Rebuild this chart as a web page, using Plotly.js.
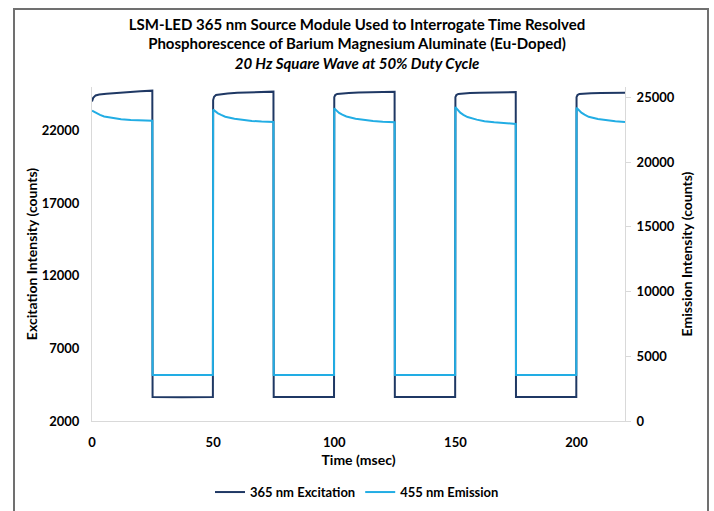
<!DOCTYPE html>
<html>
<head>
<meta charset="utf-8">
<script src="https://cdn.plot.ly/plotly-3.0.1.min.js"></script>
<style>
  html, body { margin: 0; padding: 0; background: #ffffff; }
  #chart { width: 714px; height: 511px; position: absolute; left: 0; top: 0; }
  #frame { position: absolute; left: 13px; top: 8px; width: 692px; height: 501px;
           border-left: 2px solid #707070; border-top: 2px solid #707070;
           border-right: 2px solid #707070; border-bottom: 1px solid #d4d4d4;
           pointer-events: none; }
</style>
</head>
<body>
<div id="chart"></div>
<div id="frame"></div>
<script>
// ---- Data ----
// Time in msec
const excitationTime = [
  0, 0.5, 1.5, 3, 6, 10, 15, 20, 24.9,
  25, 37, 49.9,
  50, 50.4, 51.2, 53, 56, 60, 65, 70, 74.9,
  75, 87, 99.9,
  100, 100.4, 101.2, 103, 106, 110, 115, 120, 124.9,
  125, 137, 149.9,
  150, 150.4, 151.2, 153, 156, 160, 165, 170, 174.9,
  175, 187, 199.9,
  200, 200.4, 201.2, 203, 206, 210, 215, 220
];
const excitationCounts = [
  24000, 24250, 24420, 24480, 24540, 24600, 24660, 24710, 24750,
  3650, 3630, 3650,
  24100, 24330, 24450, 24510, 24560, 24600, 24640, 24660, 24680,
  3650, 3640, 3650,
  24300, 24450, 24520, 24560, 24590, 24620, 24640, 24660, 24680,
  3650, 3640, 3650,
  24300, 24450, 24520, 24560, 24590, 24610, 24630, 24640, 24650,
  3650, 3640, 3650,
  24300, 24450, 24520, 24550, 24570, 24580, 24590, 24600
];

const emissionTime = [
  0, 1, 2, 3.3, 5, 8.8, 12, 16, 20, 24.9,
  25, 37, 49.9,
  50, 51, 52, 53.3, 55, 58.8, 62, 66, 70, 74.9,
  75, 87, 99.9,
  100, 101, 102, 103.3, 105, 108.8, 112, 116, 120, 124.9,
  125, 137, 149.9,
  150, 151, 152, 153.3, 155, 158.8, 162, 166, 170, 174.9,
  175, 187, 199.9,
  200, 201, 202, 203.3, 205, 208.8, 212, 216, 220
];
const emissionCounts = [
  23970, 23850, 23750, 23640, 23520, 23380, 23310, 23260, 23220, 23190,
  3550, 3550, 3550,
  24050, 23880, 23760, 23640, 23500, 23340, 23250, 23180, 23130, 23100,
  3550, 3550, 3550,
  24150, 23950, 23800, 23660, 23520, 23350, 23250, 23180, 23120, 23080,
  3550, 3550, 3550,
  24250, 24000, 23820, 23650, 23480, 23280, 23160, 23070, 23000, 22950,
  3550, 3550, 3550,
  24200, 23980, 23820, 23660, 23500, 23330, 23230, 23150, 23100
];

const seriesNames = ['365 nm Excitation', '455 nm Emission'];
const xTickVals = [0, 50, 100, 150, 200];
const leftTickVals = [2000, 7000, 12000, 17000, 22000];
const rightTickVals = [0, 5000, 10000, 15000, 20000, 25000];

// ---- Styling ----
const FONT = 'Lato, "Open Sans", sans-serif';
const axisGray = '#d9d9d9';
const textColor = '#000000';
const tickFont = { family: FONT, size: 13, weight: 'bold', color: textColor };
const axTitleFont = { family: FONT, size: 14, weight: 'bold', color: textColor };

const traces = [
  {
    x: excitationTime, y: excitationCounts, name: seriesNames[0],
    type: 'scatter', mode: 'lines', yaxis: 'y',
    line: { color: '#1f3864', width: 2 }
  },
  {
    x: emissionTime, y: emissionCounts, name: seriesNames[1],
    type: 'scatter', mode: 'lines', yaxis: 'y2',
    line: { color: '#22ade4', width: 2 }
  }
];

const layout = {
  width: 714, height: 511,
  margin: { l: 92, r: 89, t: 87, b: 90 },
  paper_bgcolor: '#ffffff', plot_bgcolor: '#ffffff',
  font: { family: FONT, color: textColor, size: 12 },
  showlegend: true,
  title: {
    text: 'LSM-LED 365 nm Source Module Used to Interrogate Time Resolved<br>Phosphorescence of Barium Magnesium Aluminate (Eu-Doped)<br><i>20 Hz Square Wave at 50% Duty Cycle</i>',
    font: { family: FONT, size: 15, weight: 'bold', color: textColor },
    x: 0.5, xanchor: 'center', y: 0.942, yanchor: 'top', yref: 'container'
  },
  xaxis: {
    range: [0, 220], tickvals: xTickVals, ticks: '', tickformat: 'd',
    showline: true, linecolor: axisGray, linewidth: 1,
    showgrid: false, zeroline: false, automargin: false,
    ticklabelstandoff: 9,
    tickfont: tickFont,
    title: { text: 'Time (msec)', font: axTitleFont, standoff: 6 }
  },
  yaxis: {
    range: [2000, 25000], tickvals: leftTickVals, ticks: '', tickformat: 'd',
    showline: true, linecolor: axisGray, linewidth: 1,
    showgrid: false, zeroline: false, automargin: false,
    ticklabelstandoff: 9,
    tickfont: tickFont,
    title: { text: 'Excitation Intensity (counts)', font: axTitleFont, standoff: 0 }
  },
  yaxis2: {
    range: [0, 25800], tickvals: rightTickVals, overlaying: 'y', side: 'right', tickformat: 'd',
    ticks: 'outside', ticklen: 5, tickcolor: axisGray,
    showline: true, linecolor: axisGray, linewidth: 1,
    showgrid: false, zeroline: false, automargin: false,
    ticklabelstandoff: 3,
    tickfont: tickFont,
    title: { text: 'Emission Intensity (counts)', font: axTitleFont, standoff: 8 }
  },
  legend: {
    orientation: 'h', x: 0.5, xanchor: 'center', xref: 'container',
    y: 0.037, yanchor: 'middle', yref: 'container',
    font: { family: FONT, size: 13, weight: 'bold', color: textColor }, itemwidth: 30,
    bgcolor: 'rgba(0,0,0,0)'
  }
};

Plotly.newPlot('chart', traces, layout, { displayModeBar: false, staticPlot: true });
</script>
</body>
</html>
